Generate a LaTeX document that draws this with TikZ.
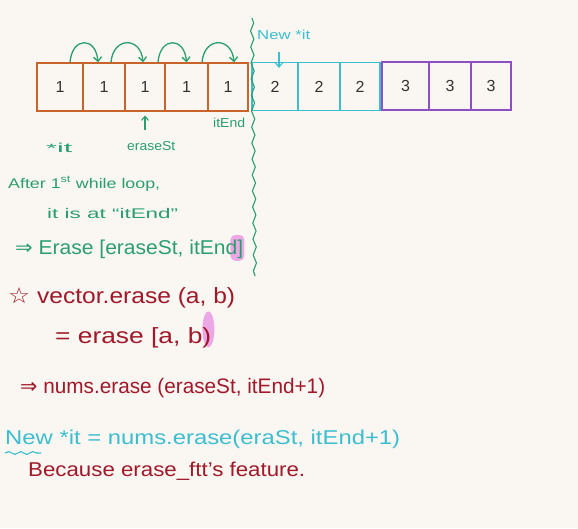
\documentclass[tikz,border=0pt]{standalone}
\usepackage{fontspec}
\setmainfont{Liberation Sans}
\newfontfamily\symf{DejaVu Sans}
\usetikzlibrary{decorations.pathmorphing,arrows.meta,calc}
\definecolor{paper}{HTML}{FAF7F2}
\definecolor{orng}{HTML}{C8642A}
\definecolor{cyn}{HTML}{3CBED0}
\definecolor{purp}{HTML}{8E50C2}
\definecolor{grn}{HTML}{2A9E6E}
\definecolor{rd}{HTML}{A0182A}
\definecolor{pnk}{HTML}{E88EE0}
\definecolor{ink}{HTML}{333333}
\newcommand\wfit[2]{\resizebox{#1pt}{\height}{#2}}
\pgfdeclarelayer{bg}
\pgfdeclarelayer{hl}
\pgfsetlayers{bg,hl,main}
\tikzset{
  cell/.style={draw, line width=1.2pt, minimum height=48pt, inner sep=0pt, text=ink, font=\fontsize{16}{16}\selectfont},
  ocell/.style={cell, draw=orng},
  ccell/.style={cell, draw=cyn},
  pcell/.style={cell, draw=purp},
  hop/.style={draw=grn, line width=1.3pt, -{Straight Barb[length=4.5pt,width=8pt]}},
  txt/.style={inner sep=0pt, anchor=base west},
  gtxt/.style={txt, text=grn},
  rtxt/.style={txt, text=rd},
  ctxt/.style={txt, text=cyn},
  hilite/.style={fill=pnk, opacity=0.75, rounded corners=5pt}
}
\begin{document}
\begin{tikzpicture}[x=1pt,y=-1pt]
\begin{pgfonlayer}{bg}
\fill[paper] (0,0) rectangle (578,528);
\end{pgfonlayer}
\useasboundingbox (0,0) rectangle (578,528);

% cells
\node[ocell, minimum width=46pt] (o1) at (60,87) {1};
\node[ocell, minimum width=42pt] (o2) at (104,87) {1};
\node[ocell, minimum width=40pt] (o3) at (145,87) {1};
\node[ocell, minimum width=43pt] (o4) at (186.5,87) {1};
\node[ocell, minimum width=40pt] (o5) at (228,87) {1};
\node[ccell, minimum width=46pt] (c1) at (275,86.5) {2};
\node[ccell, minimum width=42pt] (c2) at (319,86.5) {2};
\node[ccell, minimum width=40pt] (c3) at (360,86.5) {2};
\node[pcell, minimum width=47pt] (p1) at (405.5,86) {3};
\node[pcell, minimum width=42pt] (p2) at (450,86) {3};
\node[pcell, minimum width=40pt] (p3) at (491,86) {3};

% hops
\draw[hop] ($(o1.north)+(10,0)$) .. controls ($(o1.north)+(12,-26)$) and ($(o2.north)+(-8,-26)$) .. ($(o2.north)+(-6,0)$);
\draw[hop] ($(o2.north)+(7,0)$) .. controls ($(o2.north)+(9,-26)$) and ($(o3.north)+(-4,-26)$) .. ($(o3.north)+(-2,0)$);
\draw[hop] ($(o3.north)+(13,0)$) .. controls ($(o3.north)+(15,-26)$) and ($(o4.north)+(-2,-26)$) .. ($(o4.north)+(0,0)$);
\draw[hop] ($(o4.north)+(15.5,0)$) .. controls ($(o4.north)+(17.5,-26)$) and ($(o5.north)+(4,-26)$) .. ($(o5.north)+(6,0)$);

% divider
\coordinate (wt) at (252,18);
\coordinate (wb) at (255,276);
\draw[grn, line width=1.1pt, decorate, decoration={snake, amplitude=1.6pt, segment length=16pt}] (wt) -- (wb);

% labels near array
\node[ctxt, font=\fontsize{13}{13}\selectfont] (newit) at (257,39) {\wfit{53}{New *it}};
\coordinate (na) at (279,52);
\draw[cyn, line width=1.1pt, -{Straight Barb[length=4pt,width=7pt]}] (na) -- ($(c1.north -| na)+(0,6)$);
\node[gtxt, font=\fontsize{13}{13}\selectfont] (itend) at (213,127) {\wfit{32}{itEnd}};
\node[gtxt, font=\fontsize{13}{13}\selectfont] (star) at (46,152) {\wfit{26}{{\large *}it}};
\node[gtxt, font=\fontsize{13}{13}\selectfont] (erst) at (127,150) {\wfit{48}{eraseSt}};
\coordinate (ea) at (145,130);
\draw[grn, line width=1.1pt, -{Straight Barb[length=4pt,width=7pt]}] (ea) -- ($(ea |- o3.south)+(0,4)$);

% green notes
\node[gtxt, font=\fontsize{14}{14}\selectfont] (after) at (8,188) {\wfit{152}{After 1\textsuperscript{st} while loop,}};
\node[gtxt, font=\fontsize{14}{14}\selectfont] (isat) at (47,218) {\wfit{131}{it is at “itEnd”}};
\node[gtxt, font=\fontsize{20}{20}\selectfont] (erase1) at (15,254) {\wfit{228}{{\symf ⇒} Erase [eraseSt, itEnd]}};
\begin{pgfonlayer}{hl}
\fill[hilite] ($(erase1.east)+(-13,-14)$) rectangle ($(erase1.east)+(1,12)$);
\end{pgfonlayer}

% red notes
\node[rtxt, font=\fontsize{22}{22}\selectfont] (vec) at (8,303) {\wfit{227}{{\symf ☆} vector.erase (a, b)}};
\node[rtxt, font=\fontsize{22}{22}\selectfont] (eq) at (55,343) {\wfit{156}{= erase [a, b)}};
\begin{pgfonlayer}{hl}
\fill[pnk, opacity=0.75] ($(eq.east)+(-3,-8)$) ellipse (6pt and 18pt);
\end{pgfonlayer}
\node[rtxt, font=\fontsize{21}{21}\selectfont] (nums) at (20,393) {\wfit{305}{{\symf ⇒} nums.erase (eraseSt, itEnd+1)}};

% cyan note
\node[ctxt, font=\fontsize{20}{20}\selectfont] (newline) at (5,444) {\wfit{395}{New *it = nums.erase(eraSt, itEnd+1)}};
\coordinate (ul1) at (5,453);
\coordinate (ul2) at (41,453);
\draw[cyn, line width=1.1pt, decorate, decoration={snake, amplitude=1.4pt, segment length=12pt}] (ul1) -- (ul2);

% red last
\node[rtxt, font=\fontsize{20}{20}\selectfont] (because) at (28,476) {\wfit{277}{Because erase\_ftt's feature.}};
\end{tikzpicture}
\end{document}
